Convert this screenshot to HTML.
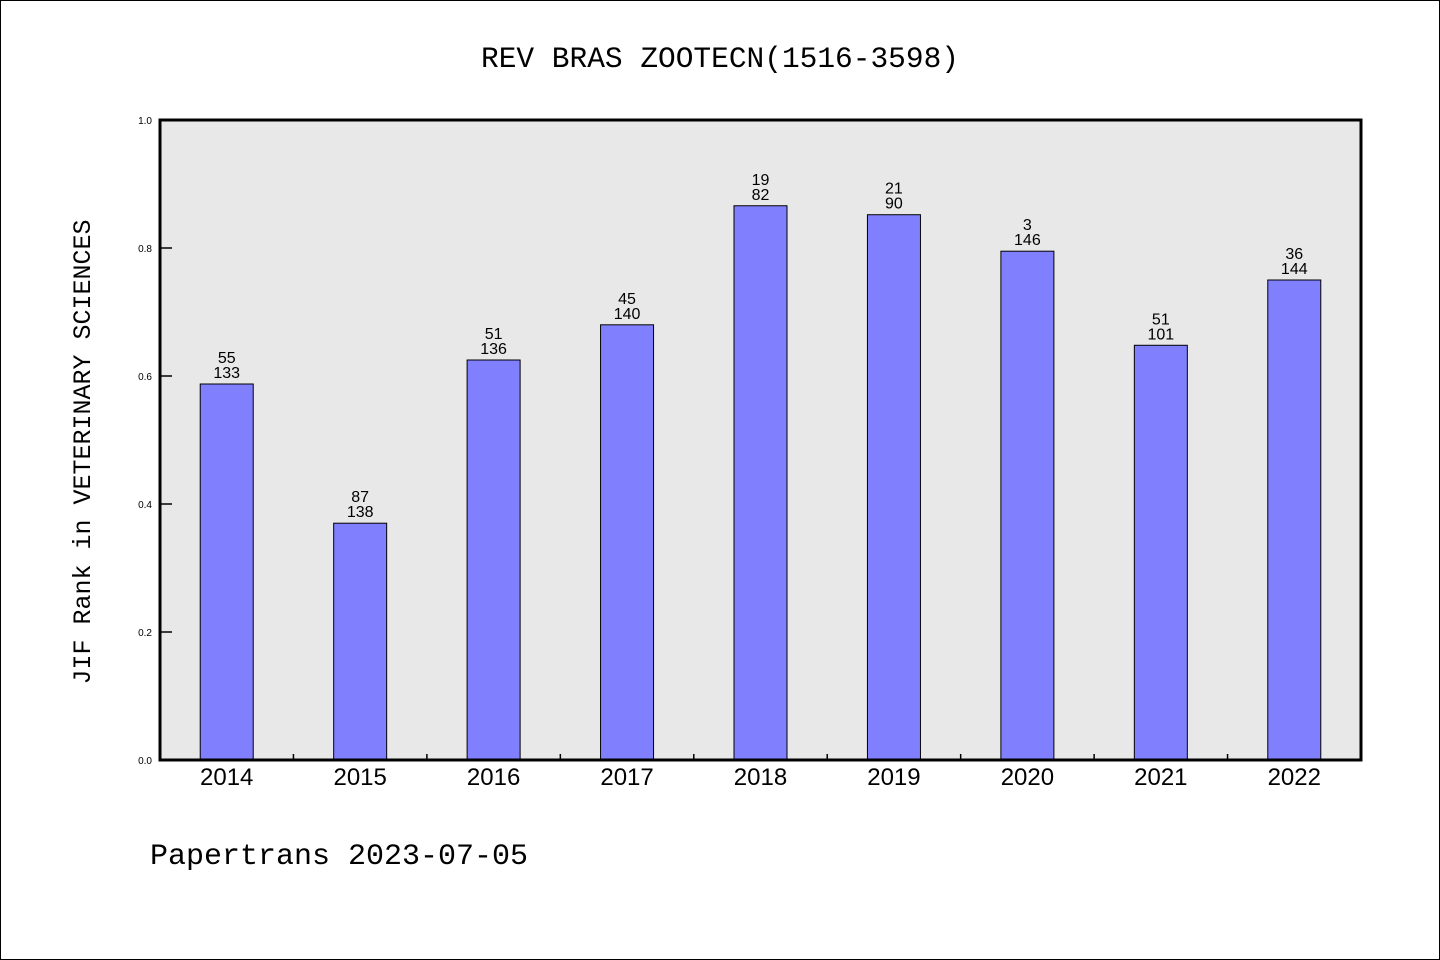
<!DOCTYPE html>
<html><head><meta charset="utf-8"><style>
html,body{margin:0;padding:0;background:#fff}
svg{display:block}
</style></head><body>
<svg id="chart" width="1440" height="960" xmlns="http://www.w3.org/2000/svg">
<rect x="0.5" y="0.5" width="1439" height="959" fill="#fff" stroke="#000"/>
<text x="720" y="67" text-anchor="middle" font-family="Liberation Mono, monospace" font-size="29.5">REV BRAS ZOOTECN(1516-3598)</text>
<rect x="160" y="120" width="1201" height="640" fill="#e8e8e8"/>
<g id="bars"></g>
<rect x="160" y="120" width="1201" height="640" fill="none" stroke="#000" stroke-width="3"/>
<text transform="translate(90,452) rotate(-90)" text-anchor="middle" font-family="Liberation Mono, monospace" font-size="25">JIF Rank in VETERINARY SCIENCES</text>
<text x="150" y="864" font-family="Liberation Mono, monospace" font-size="30">Papertrans 2023-07-05</text>
</svg>
<script>
const years = ['2014','2015','2016','2017','2018','2019','2020','2021','2022'];
const values = [0.5875,0.370,0.625,0.680,0.866,0.852,0.795,0.648,0.750];
const ranks = [55,87,51,45,19,21,3,51,36];
const totals = [133,138,136,140,82,90,146,101,144];
const yTicks = ['0.0','0.2','0.4','0.6','0.8','1.0'];
const NS='http://www.w3.org/2000/svg';
const g=document.getElementById('bars');
const X0=160,W=1201,Y0=760,H=640;
const band=W/years.length;
const xc=i=>X0+band*(i+0.5);
const y=v=>Y0-v*H;
function mk(t,a,p){const e=document.createElementNS(NS,t);for(const k in a)e.setAttribute(k,a[k]);(p||g).appendChild(e);return e;}
yTicks.forEach(t=>{
  const v=parseFloat(t);
  const l=mk('line',{x1:X0,x2:X0+12,y1:y(v),y2:y(v),stroke:'#000','stroke-width':1.5});
  
  
  const tx=mk('text',{x:X0-8,y:y(v)+4,'text-anchor':'end','font-family':'Liberation Sans, sans-serif','font-size':10});
  tx.textContent=t;
  
  
});
years.forEach((yr,i)=>{
  const v=values[i];
  const r=mk('rect',{x:xc(i)-26.5,y:y(v),width:53,height:Y0-y(v),fill:'#8080ff',stroke:'#000','stroke-width':1});
  
  
  const t1=mk('text',{x:xc(i),y:y(v)-21,'text-anchor':'middle','font-family':'Liberation Sans, sans-serif','font-size':16});
  t1.textContent=ranks[i];
  
  
  const t2=mk('text',{x:xc(i),y:y(v)-6,'text-anchor':'middle','font-family':'Liberation Sans, sans-serif','font-size':16});
  t2.textContent=totals[i];
  
  
  const xl=mk('text',{x:xc(i),y:785,'text-anchor':'middle','font-family':'Liberation Sans, sans-serif','font-size':24});
  xl.textContent=yr;
  
  
  if(i>0){
    const tk=mk('line',{x1:X0+band*i,x2:X0+band*i,y1:Y0,y2:Y0-6,stroke:'#000','stroke-width':1.5});
    
    
  }
});
</script>
</body></html>
